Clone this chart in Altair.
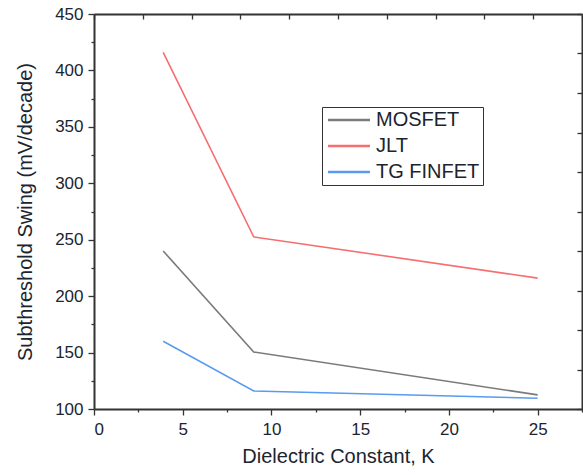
import altair as alt
import pandas as pd

k_values = [3.9, 9, 25]
mosfet = [240, 150.5, 112.5]
jlt = [416, 252.5, 216]
tg_finfet = [160, 116, 109.5]
series_names = ["MOSFET", "JLT", "TG FINFET"]
series_colors = ["#7a7a7a", "#f76e6e", "#5a9af0"]

x_ticks = [0, 2.5, 5, 7.5, 10, 12.5, 15, 17.5, 20, 22.5, 25, 27.5]
y_ticks = [100, 125, 150, 175, 200, 225, 250, 275, 300, 325, 350, 375, 400, 425, 450]
top_ticks = [0, 2.75, 5.5, 8.25, 11, 13.75, 16.5, 19.25, 22, 24.75, 27.5]
right_ticks = [100, 135, 170, 205, 240, 275, 310, 345, 380, 415, 450]

rows = []
for name, vals in zip(series_names, [mosfet, jlt, tg_finfet]):
    for k, v in zip(k_values, vals):
        rows.append({"K": k, "SS": v, "Device": name})
df = pd.DataFrame(rows)

FONT = "Liberation Sans"
AX = "#333333"
TXT = "#1c2430"

xscale = alt.Scale(domain=[0, 27.5], nice=False, zero=False)
yscale = alt.Scale(domain=[100, 450], nice=False, zero=False)

color = alt.Color(
    "Device:N",
    scale=alt.Scale(domain=series_names, range=series_colors),
    legend=alt.Legend(
        title=None,
        orient="none",
        legendX=228,
        legendY=93,
        symbolType="M-1,0L5,0",
        symbolSize=196,
        symbolStrokeWidth=2.5,
        labelFont=FONT,
        labelFontSize=20,
        labelColor=TXT,
        labelOffset=31,
        rowPadding=6,
        padding=3,
        strokeColor="#333333",
        fillColor="white",
    ),
)

lines = alt.Chart(df).mark_line(strokeWidth=1.6).encode(
    x=alt.X(
        "K:Q",
        scale=xscale,
        title="Dielectric Constant, K",
        axis=alt.Axis(
            values=x_ticks,
            labelExpr="datum.value % 5 === 0 ? datum.label : ''",
            tickSize={"condition": {"test": "datum.value % 5 === 0", "value": 6}, "value": 3},
            grid=False,
            domainColor=AX,
            domainWidth=2,
            tickColor=AX,
            tickWidth=1.3,
            labelFont=FONT,
            labelFontSize=17,
            labelColor=TXT,
            labelPadding=6,
            titleFont=FONT,
            titleFontSize=20,
            titleFontWeight="normal",
            titleColor=TXT,
            titlePadding=9,
        ),
    ),
    y=alt.Y(
        "SS:Q",
        scale=yscale,
        title="Subthreshold Swing (mV/decade)",
        axis=alt.Axis(
            values=y_ticks,
            labelExpr="datum.value % 50 === 0 ? datum.label : ''",
            tickSize={"condition": {"test": "datum.value % 50 === 0", "value": 6}, "value": 3},
            grid=False,
            domainColor=AX,
            domainWidth=2,
            tickColor=AX,
            tickWidth=1.3,
            labelFont=FONT,
            labelFontSize=17,
            labelColor=TXT,
            labelPadding=5,
            titleFont=FONT,
            titleFontSize=20,
            titleFontWeight="normal",
            titleColor=TXT,
            titlePadding=19,
        ),
    ),
    color=color,
    order=alt.Order("K:Q"),
)

frame = alt.Chart(df).mark_line(strokeOpacity=0).encode(
    x=alt.X(
        "K:Q",
        scale=xscale,
        axis=alt.Axis(
            orient="top",
            values=top_ticks,
            labels=False,
            title=None,
            grid=False,
            tickSize=alt.ExprRef(expr="-5"),
            domainColor=AX,
            domainWidth=2,
            tickColor=AX,
            tickWidth=1.3,
        ),
    ),
    y=alt.Y(
        "SS:Q",
        scale=yscale,
        axis=alt.Axis(
            orient="right",
            values=right_ticks,
            labels=False,
            title=None,
            grid=False,
            tickSize=alt.ExprRef(expr="-5"),
            domainColor=AX,
            domainWidth=2,
            tickColor=AX,
            tickWidth=1.3,
        ),
    ),
    detail="Device:N",
)

chart = (
    alt.layer(lines, frame)
    .resolve_axis(x="independent", y="independent")
    .properties(
        width=488,
        height=395,
        autosize="none",
        padding={"left": 94, "top": 14, "right": 1, "bottom": 66},
        background="white",
    )
    .configure_view(stroke=None)
)

chart.save("out.html", embed_options={"renderer": "svg", "actions": False})
